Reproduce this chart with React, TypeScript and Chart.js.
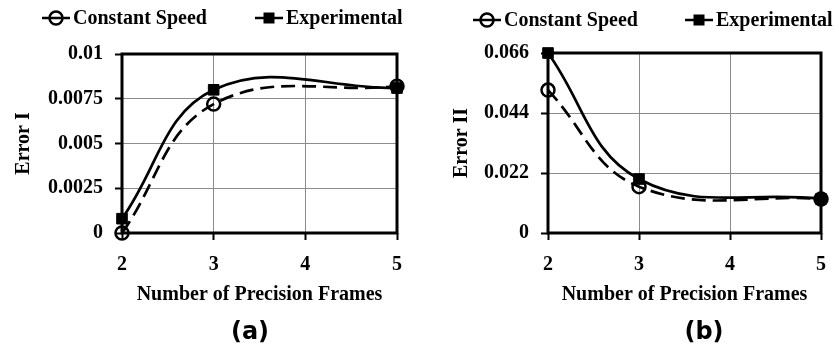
import React, { useEffect, useRef } from "react";
import { Chart, registerables } from "chart.js";

Chart.register(...registerables);

// ---- data ----
const seriesNames = ["Constant Speed", "Experimental"];
const frames = [2, 3, 5];
const xTickValues = [2, 3, 4, 5];
const xTitle = "Number of Precision Frames";

const constantSpeedA = [0, 0.0072, 0.0082];
const experimentalA = [0.0008, 0.008, 0.0081];
const yTickValuesA = [0, 0.0025, 0.005, 0.0075, 0.01];
const yTitleA = "Error I";
const captionA = "(a)";

const constantSpeedB = [0.0524, 0.017, 0.0125];
const experimentalB = [0.066, 0.0198, 0.0125];
const yTickValuesB = [0, 0.022, 0.044, 0.066];
const yTitleB = "Error II";
const captionB = "(b)";

const SERIF = "'Liberation Serif', 'Times New Roman', serif";
const SANS = "'DejaVu Sans', Verdana, sans-serif";

type Geom = {
  width: number;
  padTop: number;
  padRight: number;
  yAxisWidth: number;
  yTitlePad: number;
  legendX: [number, number];
  legendY: number;
  captionX: number;
};

type PanelProps = {
  constant: number[];
  experimental: number[];
  yTicks: number[];
  yTitle: string;
  caption: string;
  geom: Geom;
};

const framePlugin = {
  id: "frame",
  beforeDatasetsDraw(chart: any) {
    const { ctx, chartArea: a } = chart;
    ctx.save();
    ctx.strokeStyle = "#000";
    ctx.lineWidth = 3;
    ctx.strokeRect(a.left, a.top, a.right - a.left, a.bottom - a.top);
    ctx.restore();
  },
};

function makeDecor(geom: Geom, caption: string) {
  return {
    id: "decor",
    afterDraw(chart: any) {
      const ctx = chart.ctx;
      ctx.save();
      const y = geom.legendY;
      seriesNames.forEach((name, i) => {
        const lx = geom.legendX[i];
        ctx.strokeStyle = "#000";
        ctx.lineWidth = 2.5;
        ctx.setLineDash([]);
        ctx.beginPath();
        ctx.moveTo(lx, y);
        ctx.lineTo(lx + 28, y);
        ctx.stroke();
        const cx = lx + 14;
        if (i === 0) {
          ctx.beginPath();
          ctx.arc(cx, y, 6.5, 0, Math.PI * 2);
          ctx.stroke();
        } else {
          ctx.fillStyle = "#000";
          ctx.fillRect(cx - 5.5, y - 5.5, 11, 11);
        }
        ctx.fillStyle = "#000";
        ctx.font = `bold 20px ${SERIF}`;
        ctx.textAlign = "left";
        ctx.textBaseline = "middle";
        ctx.fillText(name, lx + 31, y + 1);
      });
      ctx.font = `bold 24px ${SANS}`;
      ctx.textAlign = "center";
      ctx.textBaseline = "middle";
      ctx.fillStyle = "#000";
      ctx.fillText(caption, geom.captionX, 333);
      ctx.restore();
    },
  };
}

function Panel({ constant, experimental, yTicks, yTitle, caption, geom }: PanelProps) {
  const ref = useRef<HTMLCanvasElement | null>(null);
  useEffect(() => {
    if (!ref.current) return;
    const tickFont = { family: SERIF, size: 20, weight: "bold" as const };
    const grid = {
      color: "#8c8c8c",
      lineWidth: 1,
      drawTicks: true,
      tickLength: 7,
      tickColor: "#000",
      tickWidth: 2,
    };
    const chart = new Chart(ref.current, {
      type: "line",
      data: {
        datasets: [
          {
            label: seriesNames[0],
            data: frames.map((x, i) => ({ x, y: constant[i] })),
            borderColor: "#000",
            borderWidth: 2.7,
            borderDash: [14, 7],
            pointStyle: "circle",
            pointRadius: 6.5,
            pointBorderWidth: 2.5,
            pointBorderColor: "#000",
            pointBackgroundColor: "rgba(0,0,0,0)",
            tension: 0.4,
            clip: false,
          } as any,
          {
            label: seriesNames[1],
            data: frames.map((x, i) => ({ x, y: experimental[i] })),
            borderColor: "#000",
            borderWidth: 2.7,
            pointStyle: "rect",
            pointRadius: 7.5,
            pointBorderWidth: 1,
            pointBorderColor: "#000",
            pointBackgroundColor: "#000",
            tension: 0.4,
            clip: false,
          } as any,
        ],
      },
      options: {
        animation: false,
        responsive: false,
        devicePixelRatio: 1,
        layout: { padding: { top: geom.padTop, right: geom.padRight, bottom: 0, left: 0 } },
        plugins: { legend: { display: false }, tooltip: { enabled: false } },
        scales: {
          x: {
            type: "linear",
            min: 2,
            max: 5,
            afterBuildTicks: (s: any) => {
              s.ticks = xTickValues.map((v) => ({ value: v }));
            },
            afterFit: (s: any) => {
              s.height = 117;
            },
            ticks: { font: tickFont, color: "#000", padding: 13, callback: (v: any) => String(v) },
            title: {
              display: true,
              text: xTitle,
              font: tickFont,
              color: "#000",
              padding: { top: 0, bottom: 43 },
            },
            grid,
            border: { display: false },
          },
          y: {
            type: "linear",
            min: yTicks[0],
            max: yTicks[yTicks.length - 1],
            afterBuildTicks: (s: any) => {
              s.ticks = yTicks.map((v) => ({ value: v }));
            },
            afterFit: (s: any) => {
              s.width = geom.yAxisWidth;
            },
            ticks: { font: tickFont, color: "#000", padding: 12, callback: (v: any) => String(v) },
            title: {
              display: true,
              text: yTitle,
              font: tickFont,
              color: "#000",
              padding: { top: geom.yTitlePad, bottom: 0 },
            },
            grid,
            border: { display: false },
          },
        },
      } as any,
      plugins: [framePlugin, makeDecor(geom, caption)],
    });
    return () => chart.destroy();
  }, []);
  return (
    <canvas
      ref={ref}
      width={geom.width}
      height={350}
      style={{ width: geom.width, height: 350, display: "block" }}
    />
  );
}

const geomA: Geom = {
  width: 420,
  padTop: 54,
  padRight: 23,
  yAxisWidth: 122,
  yTitlePad: 12,
  legendX: [42, 255],
  legendY: 18,
  captionX: 250,
};

const geomB: Geom = {
  width: 419,
  padTop: 53,
  padRight: 10,
  yAxisWidth: 128,
  yTitlePad: 30,
  legendX: [53, 265],
  legendY: 20,
  captionX: 284,
};

export default function App() {
  return (
    <div
      style={{
        position: "fixed",
        left: 0,
        top: 0,
        width: 839,
        height: 350,
        display: "flex",
        background: "#fff",
      }}
    >
      <Panel
        constant={constantSpeedA}
        experimental={experimentalA}
        yTicks={yTickValuesA}
        yTitle={yTitleA}
        caption={captionA}
        geom={geomA}
      />
      <Panel
        constant={constantSpeedB}
        experimental={experimentalB}
        yTicks={yTickValuesB}
        yTitle={yTitleB}
        caption={captionB}
        geom={geomB}
      />
    </div>
  );
}
